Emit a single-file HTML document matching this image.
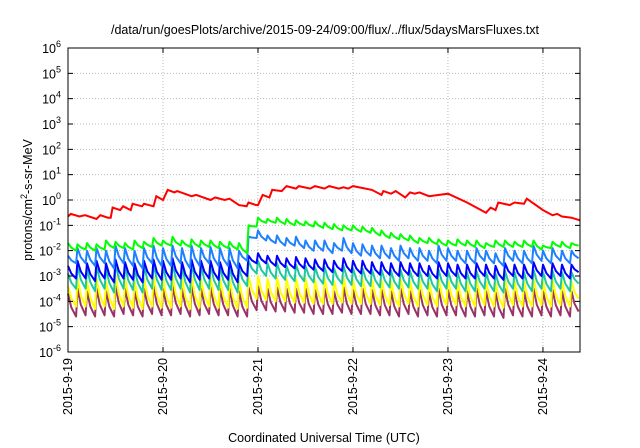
<!DOCTYPE html>
<html><head><meta charset="utf-8"><style>
body{margin:0;background:#fff}
svg{display:block;font-family:"Liberation Sans",sans-serif}
</style></head><body>
<svg id="c" width="640" height="448" viewBox="0 0 640 448">
<rect width="640" height="448" fill="#fff"/>
<text x="325" y="34" text-anchor="middle" font-size="12.5" fill="#000">/data/run/goesPlots/archive/2015-09-24/09:00/flux/../flux/5daysMarsFluxes.txt</text>
<text transform="translate(32,200) rotate(-90)" text-anchor="middle" font-size="12.5" fill="#000">protons/cm<tspan dy="-5" font-size="9">2</tspan><tspan dy="5">-s-sr-MeV</tspan></text>
<text x="324" y="442" text-anchor="middle" font-size="12.5" fill="#000">Coordinated Universal Time (UTC)</text>
<g id="grid"></g><g id="series"></g><g id="axes"></g>
</svg>
<script>
const dayLabels=["2015-9-19","2015-9-20","2015-9-21","2015-9-22","2015-9-23","2015-9-24"];
const yExps=[-6,-5,-4,-3,-2,-1,0,1,2,3,4,5,6];
const toothStep=0.1;
const redT=[0,0.03,0.12,0.18,0.3,0.34,0.42,0.45,0.47,0.55,0.58,0.66,0.68,0.78,0.8,0.9,0.93,1.0,1.05,1.12,1.15,1.3,1.35,1.5,1.55,1.65,1.7,1.8,1.88,1.9,1.98,2.0,2.05,2.12,2.15,2.25,2.3,2.4,2.43,2.55,2.6,2.7,2.75,2.85,2.9,2.95,3.0,3.2,3.3,3.32,3.4,3.45,3.55,3.6,3.65,3.7,3.8,4.0,4.2,4.4,4.45,4.5,4.53,4.65,4.7,4.8,4.83,5.0,5.1,5.15,5.2,5.3,5.39];
const redV=[-0.65,-0.55,-0.65,-0.6,-0.75,-0.6,-0.7,-0.7,-0.3,-0.4,-0.25,-0.4,-0.15,-0.25,-0.15,-0.25,0.15,0.0,0.4,0.3,0.35,0.15,0.2,0.0,0.1,0.0,0.05,-0.2,-0.25,-0.1,-0.2,-0.2,0.2,0.1,0.4,0.35,0.55,0.45,0.55,0.45,0.55,0.45,0.55,0.45,0.5,0.45,0.55,0.4,0.2,0.35,0.25,0.35,0.1,0.3,0.25,0.3,0.15,0.25,-0.1,-0.5,-0.3,-0.4,-0.1,-0.2,-0.1,-0.15,0.05,-0.4,-0.6,-0.55,-0.65,-0.7,-0.8];
const greenPk=[-1.7,-1.75,-1.7,-1.75,-1.6,-1.65,-1.7,-1.6,-1.65,-1.5,-1.6,-1.45,-1.6,-1.55,-1.6,-1.6,-1.65,-1.65,-1.7,-1.0,-0.7,-0.75,-0.7,-0.75,-0.8,-0.85,-0.85,-0.9,-0.95,-1.0,-1.0,-1.05,-1.1,-1.2,-1.3,-1.35,-1.4,-1.5,-1.5,-1.55,-1.6,-1.55,-1.6,-1.6,-1.7,-1.6,-1.6,-1.65,-1.6,-1.6,-1.8,-1.65,-1.65,-1.7];
const greenTr=[-2.0,-1.95,-2.0,-1.95,-1.9,-1.9,-1.95,-1.9,-1.85,-1.8,-1.8,-1.8,-1.85,-1.85,-1.85,-1.9,-1.9,-1.95,-2.1,-1.05,-0.9,-0.9,-0.95,-1.0,-1.0,-1.05,-1.1,-1.15,-1.2,-1.2,-1.25,-1.3,-1.4,-1.5,-1.55,-1.6,-1.7,-1.7,-1.75,-1.8,-1.8,-1.8,-1.85,-1.9,-1.85,-1.85,-1.85,-1.85,-1.85,-1.95,-1.9,-1.85,-1.9,-1.8];
const lblPk=[-2.2,-1.9,-2.0,-1.9,-2.0,-1.8,-1.9,-2.0,-1.9,-1.8,-1.9,-1.8,-1.9,-1.8,-1.9,-1.85,-1.9,-1.9,-2.0,-1.45,-1.2,-1.4,-1.4,-1.5,-1.45,-1.6,-1.6,-1.6,-1.7,-1.5,-1.7,-1.75,-1.8,-1.8,-1.9,-1.8,-1.9,-1.9,-2.0,-1.8,-1.9,-2.0,-2.0,-1.9,-2.0,-2.1,-1.9,-2.0,-2.0,-1.8,-2.0,-1.9,-2.0,-2.0];
const lblTr=[-2.5,-2.5,-2.6,-2.5,-2.7,-2.5,-2.6,-2.7,-2.5,-2.6,-2.6,-2.5,-2.7,-2.6,-2.5,-2.6,-2.6,-2.7,-2.4,-1.5,-1.6,-1.7,-1.8,-1.8,-1.9,-2.0,-2.0,-2.1,-2.0,-2.1,-2.2,-2.2,-2.3,-2.3,-2.4,-2.3,-2.4,-2.4,-2.5,-2.4,-2.4,-2.5,-2.5,-2.4,-2.5,-2.6,-2.4,-2.5,-2.5,-2.4,-2.5,-2.4,-2.5,-2.3];
const bluePk=[-2.6,-2.4,-2.5,-2.4,-2.5,-2.35,-2.45,-2.5,-2.4,-2.35,-2.4,-2.3,-2.45,-2.35,-2.4,-2.4,-2.45,-2.4,-2.5,-2.2,-2.1,-2.2,-2.2,-2.3,-2.25,-2.3,-2.35,-2.35,-2.4,-2.3,-2.4,-2.4,-2.45,-2.45,-2.5,-2.45,-2.5,-2.5,-2.6,-2.45,-2.5,-2.55,-2.55,-2.5,-2.55,-2.6,-2.5,-2.55,-2.55,-2.45,-2.55,-2.5,-2.55,-2.55];
const blueTr=[-3.1,-3.1,-3.2,-3.1,-3.25,-3.1,-3.15,-3.25,-3.1,-3.15,-3.15,-3.1,-3.25,-3.15,-3.1,-3.15,-3.15,-3.25,-3.0,-2.5,-2.5,-2.6,-2.65,-2.7,-2.7,-2.75,-2.8,-2.85,-2.8,-2.85,-2.9,-2.9,-2.95,-2.95,-3.0,-2.95,-3.0,-3.0,-3.1,-3.0,-3.0,-3.1,-3.1,-3.0,-3.1,-3.15,-3.0,-3.1,-3.1,-3.0,-3.1,-3.0,-3.1,-2.85];
const tealPk=[-2.9,-2.6,-2.7,-2.6,-2.7,-2.5,-2.6,-2.7,-2.6,-2.5,-2.6,-2.5,-2.6,-2.5,-2.6,-2.55,-2.6,-2.6,-2.7,-2.4,-2.4,-2.5,-2.5,-2.6,-2.55,-2.6,-2.65,-2.65,-2.7,-2.6,-2.7,-2.7,-2.75,-2.75,-2.8,-2.75,-2.8,-2.8,-2.9,-2.75,-2.8,-2.85,-2.85,-2.8,-2.85,-2.9,-2.8,-2.85,-2.85,-2.75,-2.85,-2.8,-2.85,-2.85];
const tealTr=[-3.5,-3.5,-3.6,-3.5,-3.65,-3.5,-3.55,-3.65,-3.5,-3.55,-3.55,-3.5,-3.65,-3.55,-3.5,-3.55,-3.55,-3.65,-3.4,-2.9,-3.0,-3.1,-3.15,-3.2,-3.2,-3.25,-3.3,-3.35,-3.3,-3.35,-3.4,-3.4,-3.45,-3.45,-3.5,-3.45,-3.5,-3.5,-3.6,-3.5,-3.5,-3.6,-3.6,-3.5,-3.6,-3.65,-3.5,-3.6,-3.6,-3.5,-3.6,-3.5,-3.6,-3.3];
const yelPk=[-3.4,-3.1,-3.2,-3.1,-3.2,-3.0,-3.1,-3.2,-3.1,-3.0,-3.1,-3.0,-3.1,-3.0,-3.1,-3.05,-3.1,-3.1,-3.2,-3.0,-3.0,-3.1,-3.05,-3.1,-3.1,-3.1,-3.15,-3.1,-3.2,-3.05,-3.15,-3.1,-3.15,-3.15,-3.2,-3.1,-3.2,-3.15,-3.25,-3.1,-3.15,-3.2,-3.2,-3.1,-3.2,-3.25,-3.1,-3.2,-3.2,-3.1,-3.2,-3.15,-3.2,-3.2];
const yelTr=[-4.2,-4.2,-4.3,-4.2,-4.3,-4.2,-4.25,-4.3,-4.2,-4.25,-4.25,-4.2,-4.3,-4.25,-4.2,-4.25,-4.25,-4.3,-4.25,-3.9,-3.95,-4.0,-4.0,-4.05,-4.05,-4.1,-4.1,-4.1,-4.05,-4.1,-4.1,-4.1,-4.15,-4.15,-4.2,-4.1,-4.2,-4.15,-4.2,-4.15,-4.15,-4.2,-4.2,-4.15,-4.2,-4.25,-4.15,-4.2,-4.2,-4.15,-4.2,-4.15,-4.2,-3.9];
const purPk=[-3.7,-3.5,-3.6,-3.5,-3.6,-3.4,-3.5,-3.6,-3.5,-3.4,-3.5,-3.4,-3.5,-3.4,-3.5,-3.45,-3.5,-3.5,-3.6,-3.45,-3.4,-3.5,-3.45,-3.5,-3.5,-3.5,-3.55,-3.5,-3.6,-3.45,-3.55,-3.5,-3.55,-3.55,-3.6,-3.5,-3.6,-3.55,-3.65,-3.5,-3.55,-3.6,-3.6,-3.5,-3.6,-3.65,-3.5,-3.6,-3.6,-3.5,-3.6,-3.55,-3.6,-3.6];
const purTr=[-4.6,-4.55,-4.6,-4.55,-4.6,-4.5,-4.55,-4.6,-4.5,-4.55,-4.55,-4.5,-4.6,-4.55,-4.5,-4.55,-4.55,-4.6,-4.6,-4.35,-4.35,-4.4,-4.4,-4.45,-4.45,-4.5,-4.5,-4.5,-4.45,-4.5,-4.5,-4.5,-4.55,-4.55,-4.6,-4.5,-4.6,-4.55,-4.6,-4.55,-4.55,-4.6,-4.6,-4.55,-4.6,-4.65,-4.55,-4.6,-4.6,-4.55,-4.6,-4.55,-4.6,-4.4];

const X0=68,X1=580,Y0=352,Y1=48,TMAX=5.39,LMIN=-6,LMAX=6;
const xs=t=>X0+(t/TMAX)*(X1-X0);
const ys=v=>Y0-(v-LMIN)/(LMAX-LMIN)*(Y0-Y1);
const NS="http://www.w3.org/2000/svg";
function mk(tag,attrs,parent){const e=document.createElementNS(NS,tag);for(const k in attrs)e.setAttribute(k,attrs[k]);parent.appendChild(e);return e;}
const grid=document.getElementById('grid'),axes=document.getElementById('axes'),ser=document.getElementById('series');
yExps.forEach(e=>{
  const y=ys(e);
  if(e>LMIN&&e<LMAX){const l=mk('line',{x1:X0,x2:X1,y1:y,y2:y,stroke:'#bbb','stroke-width':1,'stroke-dasharray':'1,2'},grid);
  
  }
  const tk=mk('path',{d:`M${X0},${y}h5M${X1},${y}h-5`,stroke:'#000','stroke-width':1},axes);
  
  
  const tx=mk('text',{x:X0-7,y:y+5,'text-anchor':'end','font-size':12.5,fill:'#000'},axes);
  
  
  tx.innerHTML=`10<tspan dy="-6" font-size="9">${e}</tspan>`;
});
dayLabels.forEach((d,i)=>{
  const x=xs(i);
  if(i>0){const l=mk('line',{x1:x,x2:x,y1:Y1,y2:Y0,stroke:'#bbb','stroke-width':1,'stroke-dasharray':'1,2'},grid);
  
  }
  const tk=mk('path',{d:`M${x},${Y0}v-5M${x},${Y1}v5`,stroke:'#000','stroke-width':1},axes);
  
  
  const tx=mk('text',{transform:`translate(${x+4},${Y0+6}) rotate(-90)`,'text-anchor':'end','font-size':12.5,fill:'#000'},axes);
  
  
  tx.textContent=d;
});
const frame=mk('rect',{x:X0,y:Y1,width:X1-X0,height:Y0-Y1,fill:'none',stroke:'#000','stroke-width':1},axes);


function saw(pk,tr,color,name){
  let d='';
  for(let i=0;i<pk.length;i++){
    const t0=i*toothStep,t1=Math.min((i+1)*toothStep,TMAX);
    const tr0=Math.max(t0-0.015,0);
    const tm=t0+(t1-t0)*0.35;
    const vm=tr[i]+0.4*(pk[i]-tr[i]);
    d+=(i?'L':'M')+xs(tr0).toFixed(1)+','+ys(i?tr[i-1]:pk[i]).toFixed(1);
    d+='L'+xs(t0).toFixed(1)+','+ys(pk[i]).toFixed(1);
    d+='L'+xs(tm).toFixed(1)+','+ys(vm).toFixed(1);
    d+='L'+xs(t1-0.015).toFixed(1)+','+ys(tr[i]).toFixed(1);
  }
  const p=mk('path',{d,fill:'none',stroke:color,'stroke-width':2,'stroke-linejoin':'round'},ser);
  
  
}
saw(purPk,purTr,'#993366','series-purple');
saw(yelPk,yelTr,'#ffff00','series-yellow');
saw(tealPk,tealTr,'#20c8a0','series-teal');
saw(bluePk,blueTr,'#0000ff','series-blue');
saw(lblPk,lblTr,'#1e80ff','series-lightblue');
saw(greenPk,greenTr,'#00ff00','series-green');
let rd='';
redT.forEach((t,i)=>{rd+=(i?'L':'M')+xs(t).toFixed(1)+','+ys(redV[i]).toFixed(1);});
const rp=mk('path',{d:rd,fill:'none',stroke:'#ff0000','stroke-width':2},ser);


</script>
</body></html>
